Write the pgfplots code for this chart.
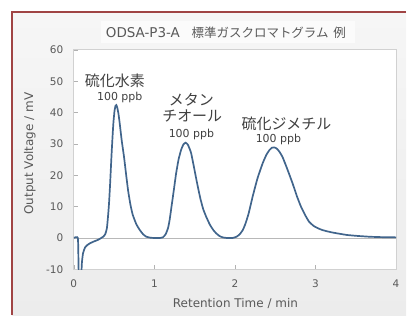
\documentclass[border=0pt]{standalone}
\usepackage{pgfplots}
\pgfplotsset{compat=1.18}
\usepackage{fontspec}
\setmainfont{DejaVu Sans}
\newfontfamily\jp{Noto Sans CJK JP}
\definecolor{curve}{HTML}{41658C}
\definecolor{fr}{HTML}{A04444}
\definecolor{tl}{HTML}{595959}
\definecolor{lab}{HTML}{404040}
\definecolor{bgtop}{HTML}{F6F6F6}
\definecolor{bgbot}{HTML}{ECECEC}
\begin{document}
\begin{tikzpicture}
\fill[white] (0,0) rectangle (407bp,316bp);
\shade[top color=bgtop, bottom color=bgbot] (12bp,0) rectangle (407bp,304bp);
\draw[fr, line width=2bp] (12bp,0) -- (12bp,304bp) -- (407bp,304bp);
\fill[white, opacity=0.6] (101bp,273bp) rectangle (356bp,295bp);
\begin{axis}[
  at={(74bp,46bp)}, anchor=south west,
  scale only axis, width=323bp, height=220bp,
  xmin=0, xmax=4, ymin=-10, ymax=60,
  xtick={0,1,2,3,4}, ytick={-10,0,10,20,30,40,50,60},
  xtick pos=bottom, ytick pos=left,
  major tick length=4bp,
  tick style={color=black!30, line width=0.6bp},
  axis line style={color=black!18, line width=0.8bp},
  axis background/.style={fill=white},
  /pgf/number format/assume math mode=true,
  ticklabel style={font=\fontsize{10.5bp}{12bp}\selectfont, text=tl},
  yticklabel style={xshift=-7bp},
  xticklabel style={yshift=-7bp},
  extra y ticks={0}, extra y tick labels={},
  extra y tick style={grid=major, major grid style={color=black!28, line width=0.8bp}, tick style={draw=none}},
  clip=true,
]
\addplot[curve, line width=1.7bp, smooth, tension=0.3] coordinates {
(0,0) (0.05,0) (0.058,-8) (0.065,-16) (0.085,-16) (0.1,-8) (0.115,-4.8)
(0.14,-3) (0.17,-2.2) (0.2,-1.7) (0.25,-1.1) (0.3,-0.6) (0.34,0) (0.37,0.5)
(0.39,1.2) (0.41,3) (0.425,7) (0.437,11) (0.45,17) (0.467,25.9) (0.48,32)
(0.491,36.6) (0.505,40.5) (0.518,42.2) (0.528,42.4) (0.54,41.5) (0.555,39.5)
(0.57,36.5) (0.595,31) (0.623,25.9) (0.648,20.5) (0.673,15.3) (0.70,11)
(0.73,7.5) (0.776,4.4) (0.82,2.5) (0.86,1.2) (0.9,0.4) (0.95,0.1) (1.0,0)
(1.07,0) (1.106,0.2) (1.14,1.2) (1.17,3.2) (1.189,5.7) (1.21,9.5) (1.24,15)
(1.27,20.6) (1.30,25) (1.333,28.2) (1.36,29.8) (1.387,30.4) (1.415,29.8)
(1.44,28.3) (1.457,27) (1.49,22.8) (1.515,19.5) (1.54,16.3) (1.57,12.7)
(1.605,9.3) (1.643,6.8) (1.69,4.2) (1.73,2.6) (1.767,1.5) (1.81,0.6)
(1.85,0.2) (1.9,0) (1.97,0) (2.02,0.4) (2.06,1.2) (2.097,2.5) (2.13,4.5)
(2.17,7.8) (2.22,13.2) (2.28,19) (2.344,23.8) (2.39,26.5) (2.427,28)
(2.46,28.8) (2.489,28.9) (2.52,28.5) (2.55,27.6) (2.59,25.9) (2.65,22)
(2.716,17.4) (2.77,13.3) (2.82,10) (2.87,7.4) (2.92,5.2) (2.98,3.8)
(3.04,3.0) (3.09,2.5) (3.2,1.8) (3.38,1.0) (3.5,0.7) (3.67,0.4) (3.85,0.25)
(4.0,0.2)
};
\node[text=lab, font=\jp\fontsize{15bp}{16bp}\selectfont] at (axis cs:0.51,50.2) {硫化水素};
\node[text=lab, font=\fontsize{11bp}{12bp}\selectfont, anchor=base] at (axis cs:0.57,43.9) {100 ppb};
\node[text=lab, font=\jp\fontsize{15bp}{16bp}\selectfont] at (axis cs:1.46,44.1) {メタン};
\node[text=lab, font=\jp\fontsize{15bp}{16bp}\selectfont] at (axis cs:1.47,38.9) {チオール};
\node[text=lab, font=\fontsize{11bp}{12bp}\selectfont, anchor=base] at (axis cs:1.46,32.2) {100 ppb};
\node[text=lab, font=\jp\fontsize{15bp}{16bp}\selectfont] at (axis cs:2.64,36.3) {硫化ジメチル};
\node[text=lab, font=\fontsize{11bp}{12bp}\selectfont, anchor=base] at (axis cs:2.54,30.6) {100 ppb};
\end{axis}
\node[text=tl, font=\fontsize{13.5bp}{14bp}\selectfont, anchor=base west, inner sep=0pt] at (106bp,278bp) {ODSA-P3-A};
\node[text=tl, font=\jp\fontsize{12.5bp}{13bp}\selectfont, anchor=base west, inner sep=0pt] at (192bp,278bp) {標準ガスクロマトグラム};
\node[text=tl, font=\jp\fontsize{12.5bp}{13bp}\selectfont, anchor=base west, inner sep=0pt] at (334bp,278bp) {例};
\node[text=tl, font=\fontsize{12bp}{13bp}\selectfont] at (236bp,12bp) {Retention Time / min};
\node[text=tl, font=\fontsize{12bp}{13bp}\selectfont, rotate=90] at (30bp,162bp) {Output Voltage / mV};
\end{tikzpicture}
\end{document}
